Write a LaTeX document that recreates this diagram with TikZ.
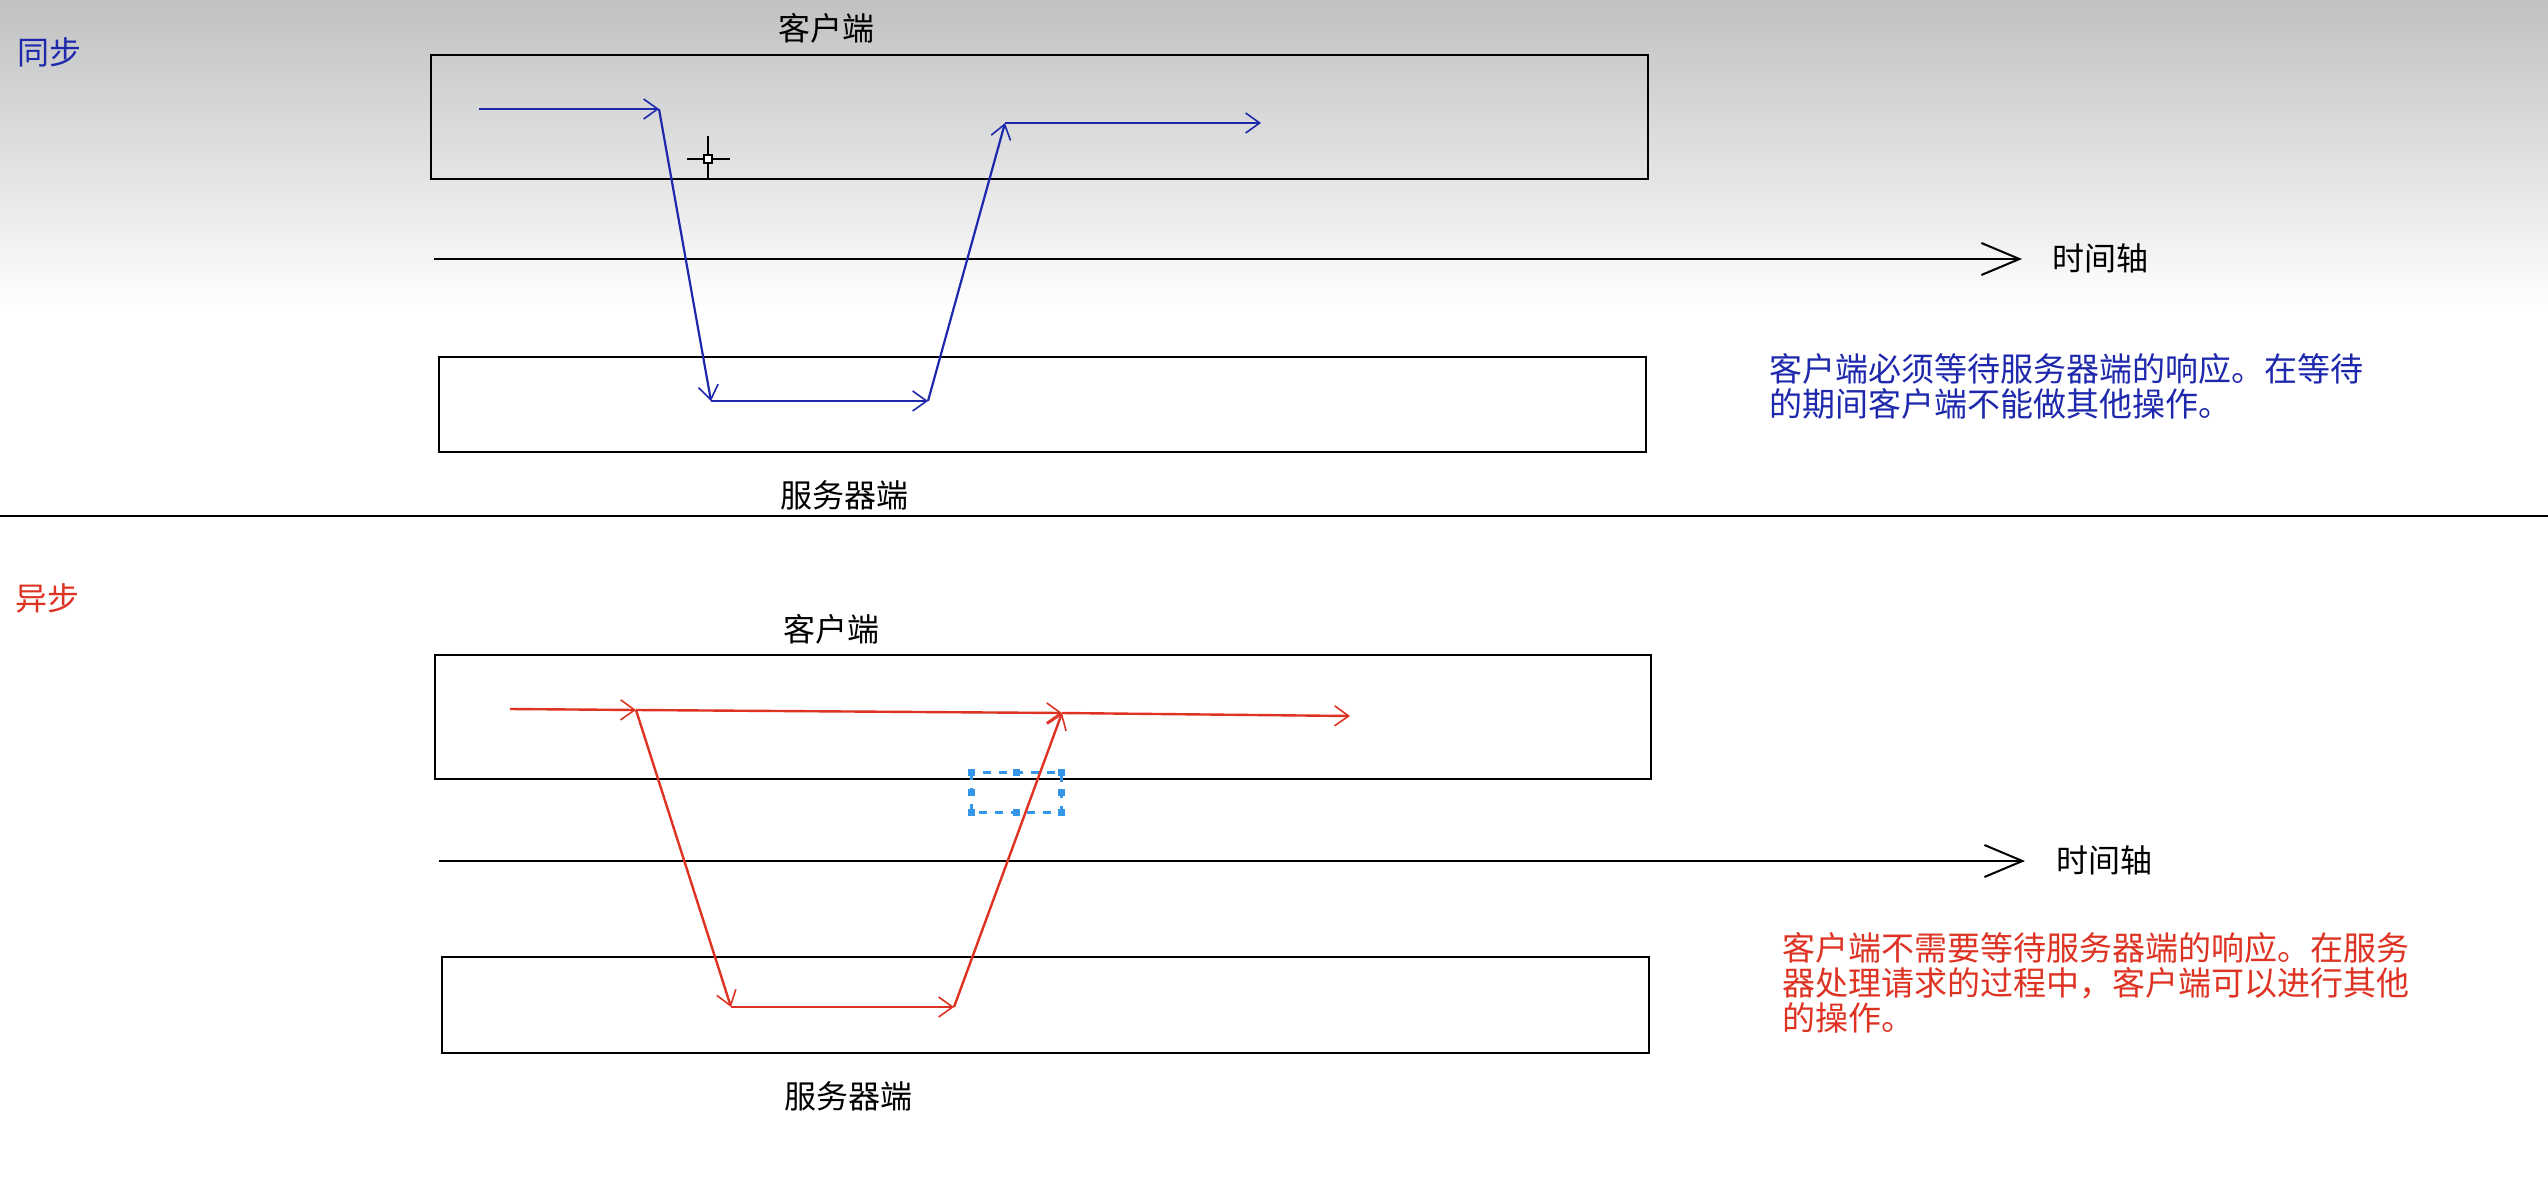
\documentclass[tikz,border=0pt]{standalone}
\usepackage{fontspec}
\setmainfont{Noto Sans CJK SC}
\usetikzlibrary{arrows.meta}
\definecolor{syncblue}{RGB}{30,40,172}
\definecolor{asyncred}{RGB}{222,50,34}
\definecolor{selblue}{RGB}{52,150,232}
\definecolor{topgray}{RGB}{192,193,193}
\begin{document}
\begin{tikzpicture}[x=0.5pt,y=-0.5pt,
  lane/.style={draw=black, line width=1pt, inner sep=0pt},
  lbl/.style={inner sep=0pt, font=\fontsize{16pt}{16pt}\selectfont},
  desc/.style={inner sep=0pt, anchor=west, align=left, font=\fontsize{16.5pt}{17.5pt}\selectfont},
  axisline/.style={line width=1pt, -{Straight Barb[length=19pt,width=16pt,line width=1pt]}},
  bflow/.style={syncblue, line width=1.1pt, -{Straight Barb[length=7pt,width=10pt,line width=0.8pt]}},
  rflow/.style={asyncred, line width=1.2pt, -{Straight Barb[length=7pt,width=10pt,line width=0.8pt]}},
  handle/.style={fill=selblue, inner sep=0pt, minimum size=3.5pt}
]
\useasboundingbox (0,0) rectangle (2548,1178);
\fill[white] (0,0) rectangle (2548,1178);
\shade[top color=topgray, bottom color=white] (0,0) rectangle (2548,310);

% ---------- 同步 ----------
\node[lbl, text=syncblue] (syncT) at (50,52) {同步};
\node[lane, minimum width=608.5pt, minimum height=62pt] (cl1) at (1039.5,117) {};
\node[lane, minimum width=603.5pt, minimum height=47.5pt] (sv1) at (1042.5,404.5) {};
\node[lbl] (cl1T) at (826,28) {客户端};
\node[lbl] (sv1T) at (844,495) {服务器端};
\coordinate (ax1s) at (434,259);
\coordinate (ax1e) at (2022,259);
\draw[axisline] (ax1s) -- (ax1e);
\node[lbl] (ax1T) at (2100,258) {时间轴};

\coordinate (b1) at (479,109);
\coordinate (b2) at (659,109);
\coordinate (b3) at (711,401);
\coordinate (b4) at (928,401);
\coordinate (b5) at (1005,123);
\coordinate (b6) at (1261,123);
\draw[bflow] (b1) -- (b2);
\draw[bflow] (b2) -- (b3);
\draw[bflow] (b3) -- (b4);
\draw[bflow] (b4) -- (b5);
\draw[bflow] (b5) -- (b6);

\node[desc, text=syncblue] (syncD) at (1769,386.5)
  {客户端必须等待服务器端的响应。在等待\\的期间客户端不能做其他操作。};

% cursor
\coordinate (cur) at (708,159);
\draw[black, line width=1pt] (708,136) -- (708,180) (687,159) -- (730,159);
\draw[black, line width=1pt, fill=white] (704,155) rectangle (712,163);

% divider
\coordinate (dvl) at (0,516);
\coordinate (dvr) at (2548,516);
\draw[black, line width=1pt] (dvl) -- (dvr);

% ---------- 异步 ----------
\node[lbl, text=asyncred] (asyncT) at (47,598) {异步};
\node[lane, minimum width=608pt, minimum height=62pt] (cl2) at (1043,717) {};
\node[lane, minimum width=603.5pt, minimum height=48pt] (sv2) at (1045.5,1005) {};
\node[lbl] (cl2T) at (831,629) {客户端};
\node[lbl] (sv2T) at (848,1096) {服务器端};
\coordinate (ax2s) at (439,861);
\coordinate (ax2e) at (2025,861);
\draw[axisline] (ax2s) -- (ax2e);
\node[lbl] (ax2T) at (2104,860) {时间轴};

% selection rectangle
\coordinate (s1) at (971,772);
\coordinate (s2) at (1061,812);
\draw[selblue, line width=1.5pt, dash pattern=on 4pt off 4pt] (s1) rectangle (s2);
\foreach \p in {(971,772),(1016,772),(1061,772),(971,792),(1061,792),(971,812),(1016,812),(1061,812)}
  \node[handle] at \p {};

\coordinate (r1) at (510,709);
\coordinate (r2) at (636,710);
\coordinate (r3) at (1062,713);
\coordinate (r4) at (1350,716);
\coordinate (r5) at (731,1007);
\coordinate (r6) at (954,1007);
\draw[rflow] (r1) -- (r2);
\draw[rflow] (r2) -- (r3);
\draw[rflow] (r3) -- (r4);
\draw[rflow] (r2) -- (r5);
\draw[rflow] (r5) -- (r6);
\draw[rflow] (r6) -- (r3);

\node[desc, text=asyncred] (asyncD) at (1782,983)
  {客户端不需要等待服务器端的响应。在服务\\器处理请求的过程中，客户端可以进行其他\\的操作。};
\end{tikzpicture}
\end{document}
